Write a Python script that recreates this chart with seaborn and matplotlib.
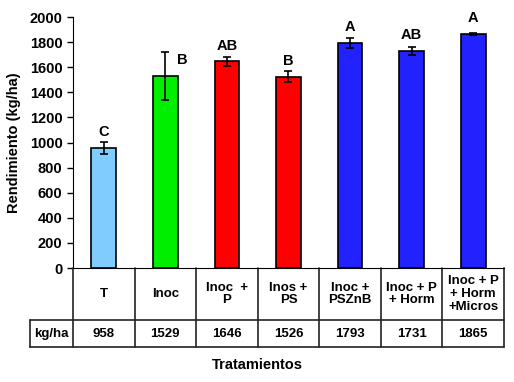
import matplotlib
matplotlib.use("Agg")
import matplotlib.pyplot as plt
import matplotlib.transforms as mtransforms
import seaborn as sns
import pandas as pd

# data
tratamientos = ["T", "Inoc", "Inoc  +\nP", "Inos +\nPS", "Inoc +\nPSZnB",
                "Inoc + P\n+ Horm", "Inoc + P\n+ Horm\n+Micros"]
rendimiento = [958, 1529, 1646, 1526, 1793, 1731, 1865]
error = [50, 190, 35, 40, 38, 33, 8]
letras = ["C", "B", "AB", "B", "A", "AB", "A"]
colores = ["#80CCFF", "#00EE00", "#FF0000", "#FF0000", "#2222FF", "#2222FF", "#2222FF"]

df = pd.DataFrame({"trat": tratamientos, "rend": rendimiento})

sns.set_style("white")
plt.rcParams["font.family"] = ["Liberation Sans", "DejaVu Sans"]
plt.rcParams["font.weight"] = "bold"
plt.rcParams["text.color"] = "black"
plt.rcParams["axes.labelcolor"] = "black"
plt.rcParams["ytick.color"] = "black"

fig = plt.figure(figsize=(5.14, 3.82), dpi=100)
ax = fig.add_axes([0.142, 0.2984, 0.8385, 0.657])

sns.barplot(data=df, x="trat", y="rend", hue="trat", palette=colores,
            legend=False, width=0.4, saturation=1, edgecolor="black",
            linewidth=1.2, ax=ax)

pos = list(range(len(tratamientos)))
ax.errorbar(pos, rendimiento, yerr=error, fmt="none", ecolor="black",
            elinewidth=1.2, capsize=3, capthick=1.2)

for i, (v, e, l) in enumerate(zip(rendimiento, error, letras)):
    # a long error bar pushes the letter to the side
    dx = 0.27 if e > 100 else 0
    ax.text(i + dx, v + 70, l, ha="center", va="bottom", fontsize=10.5, fontweight="bold")

ax.set_ylim(0, 2000)
ax.set_xlim(-0.5, len(tratamientos) - 0.5)
ax.set_yticks(range(0, 2001, 200))
ax.tick_params(axis="y", labelsize=10.5, length=4, width=1, direction="out", left=True)
for lab in ax.get_yticklabels():
    lab.set_fontweight("bold")
ax.set_xticks([])
ax.set_xlabel("")
ax.set_ylabel("Rendimiento (kg/ha)", fontsize=10.5, fontweight="bold", labelpad=6)
sns.despine(ax=ax)
ax.spines["left"].set_color("black")
ax.spines["bottom"].set_color("black")

# table under the axis: x in data units, y in axes fraction
tr = mtransforms.blended_transform_factory(ax.transData, ax.transAxes)
r1 = -52 / 251
r2 = -79 / 251
lab_left = -0.5 - 43 / 61.6
lc = "#222222"
kw = dict(transform=tr, clip_on=False, color=lc, lw=1.2)
n = len(tratamientos)
for b in range(n + 1):
    ax.plot([b - 0.5, b - 0.5], [0, r2], **kw)
ax.plot([lab_left, n - 0.5], [r1, r1], **kw)
ax.plot([lab_left, n - 0.5], [r2, r2], **kw)
ax.plot([lab_left, lab_left], [r1, r2], **kw)

for i, (t, v) in enumerate(zip(tratamientos, rendimiento)):
    ax.text(i, r1 / 2, t, transform=tr, ha="center", va="center",
            fontsize=9.5, fontweight="bold", linespacing=1.1)
    ax.text(i, (r1 + r2) / 2, str(v), transform=tr, ha="center", va="center",
            fontsize=9.5, fontweight="bold")
ax.text((lab_left - 0.5) / 2, (r1 + r2) / 2, "kg/ha", transform=tr,
        ha="center", va="center", fontsize=9.5, fontweight="bold")

fig.text(0.5, 1 - 365 / 382, "Tratamientos", ha="center", va="center",
         fontsize=10.5, fontweight="bold")

fig.savefig("out.png", dpi=100)
